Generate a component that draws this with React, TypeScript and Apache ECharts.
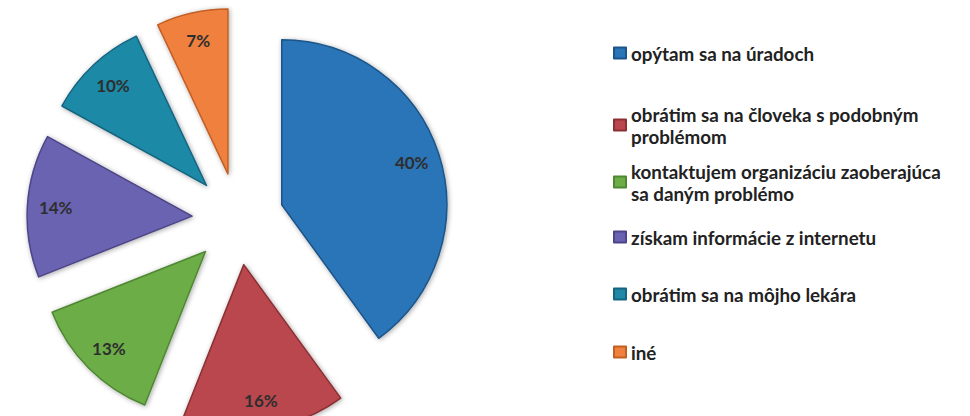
import React, { useEffect, useRef } from "react";
import * as echarts from "echarts";

const categories = [
  "opýtam sa na úradoch",
  "obrátim sa na človeka s podobným problémom",
  "kontaktujem organizáciu zaoberajúca sa daným problémo",
  "získam informácie z internetu",
  "obrátim sa na môjho lekára",
  "iné",
];
const values = [40, 16, 13, 14, 10, 7];
const legendLines = [
  ["opýtam sa na úradoch"],
  ["obrátim sa na človeka s podobným", "problémom"],
  ["kontaktujem organizáciu zaoberajúca", "sa daným problémo"],
  ["získam informácie z internetu"],
  ["obrátim sa na môjho lekára"],
  ["iné"],
];
const colors = ["#2a75b8", "#b9474d", "#6cad47", "#6b63b2", "#1f89a6", "#f0803e"];
const borders = ["#1c5487", "#8a3035", "#4f8733", "#4c4587", "#156580", "#c25f25"];
const legendCenters = [53, 114, 171, 237, 294, 352];

export default function App() {
  const ref = useRef<HTMLDivElement>(null);
  useEffect(() => {
    if (!ref.current) return;
    const chart = echarts.init(ref.current, undefined, { renderer: "svg" });
    const R = 165;
    const center = [238, 219];
    const offset = 46;
    const LH = 22;
    const legends = categories.map((name, i) => {
      const lines = legendLines[i];
      const two = lines.length > 1;
      return {
        show: true,
        orient: "vertical",
        left: 613,
        top: legendCenters[i] - (two ? LH * 1.5 - 11 : LH / 2),
        padding: 0,
        data: [name],
        icon: "rect",
        itemWidth: 12,
        itemHeight: 11,
        selectedMode: false,
        formatter: () => lines.join("\n"),
        textStyle: {
          fontFamily: "Lato",
          fontWeight: "bold",
          fontSize: 18.8,
          color: "#222222",
          lineHeight: LH,
          padding: two ? [LH, 0, 0, 0] : 0,
        },
      };
    });
    const mainData = categories.map((name, i) => ({
      name,
      value: values[i],
      selected: true,
      itemStyle: { color: colors[i], borderColor: borders[i] },
    }));
    const labelData = categories.map((name, i) => ({
      name,
      value: values[i],
      selected: true,
      itemStyle: { color: "rgba(0,0,0,0)" },
    }));
    chart.setOption({
      animation: false,
      backgroundColor: "#ffffff",
      legend: legends,
      series: [
        {
          type: "pie",
          name: "main",
          center,
          radius: [0, R],
          startAngle: 90,
          clockwise: true,
          selectedMode: "multiple",
          selectedOffset: offset,
          data: mainData,
          label: { show: false },
          labelLine: { show: false },
          itemStyle: {
            borderWidth: 1.5,
            shadowBlur: 5,
            shadowColor: "rgba(0,0,0,0.35)",
            shadowOffsetX: 1,
            shadowOffsetY: 1,
          },
          emphasis: { disabled: true },
          silent: true,
        },
        {
          type: "pie",
          name: "labels",
          center,
          radius: [R * 0.62, R],
          startAngle: 90,
          clockwise: true,
          selectedMode: "multiple",
          selectedOffset: offset,
          data: labelData,
          label: {
            show: true,
            position: "inside",
            formatter: "{d}%",
            fontFamily: "Lato",
            fontWeight: "bold",
            fontSize: 17,
            color: "#2e2e2e",
          },
          labelLine: { show: false },
          emphasis: { disabled: true },
          silent: true,
        },
      ],
    });
    return () => chart.dispose();
  }, []);
  return (
    <div
      ref={ref}
      style={{ position: "absolute", left: 0, top: 0, width: 970, height: 416, background: "#fff" }}
    />
  );
}
